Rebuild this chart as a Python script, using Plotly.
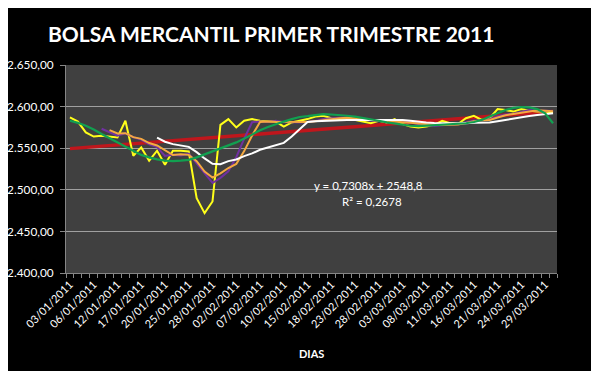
import plotly.graph_objects as go

dates = (["%02d/01/2011" % d for d in [3, 4, 5, 6, 7, 11, 12, 13, 14, 17, 18, 19, 20, 21, 24, 25, 26, 27, 28, 31]]
         + ["%02d/02/2011" % d for d in [1, 2, 3, 4, 7, 8, 9, 10, 11, 14, 15, 16, 17, 18, 21, 22, 23, 24, 25, 28]]
         + ["%02d/03/2011" % d for d in [1, 2, 3, 4, 7, 8, 9, 10, 11, 14, 15, 16, 17, 18, 21, 22, 23, 24, 25, 28, 29, 30]])

precio = [2587, 2582, 2569, 2564, 2565, 2564, 2563, 2583, 2541, 2551,
          2535, 2547, 2530, 2547, 2547, 2546, 2490, 2472, 2486, 2578,
          2585, 2575, 2583, 2585, 2583, 2582, 2582, 2576, 2581, 2583,
          2585, 2588, 2589, 2586, 2585, 2586, 2584, 2582, 2580, 2583,
          2581, 2585, 2579, 2576, 2575, 2576, 2578, 2583, 2580, 2579,
          2586, 2589, 2584, 2586, 2597, 2596, 2594, 2597, 2595, 2594,
          2594, 2593]

media5 = [None, None, None, None, 2573.4, 2568.8, 2565.0, 2567.8, 2563.2, 2560.4,
          2554.6, 2551.4, 2540.8, 2542.0, 2541.2, 2543.4, 2532.0, 2520.4, 2508.2, 2514.4,
          2522.2, 2539.2, 2561.4, 2581.2, 2582.2, 2581.6, 2583.0, 2581.6, 2580.8, 2580.8,
          2581.4, 2582.6, 2585.2, 2586.2, 2586.6, 2586.8, 2586.0, 2584.6, 2583.4, 2583.0,
          2582.0, 2582.2, 2581.6, 2580.8, 2579.2, 2578.2, 2576.8, 2577.6, 2578.4, 2579.2,
          2581.2, 2583.4, 2583.6, 2584.8, 2588.4, 2590.4, 2591.4, 2594.0, 2595.8, 2595.2,
          2594.8, 2594.6]

media6 = [None, None, None, None, None, 2571.8, 2567.8, 2568.0, 2563.3, 2561.2,
          2556.2, 2553.3, 2547.8, 2541.8, 2542.8, 2542.0, 2534.5, 2522.0, 2514.7, 2519.8,
          2526.2, 2531.0, 2546.5, 2565.3, 2581.5, 2582.2, 2581.7, 2581.8, 2581.5, 2581.2,
          2581.5, 2582.5, 2583.7, 2585.3, 2586.0, 2586.5, 2586.3, 2585.3, 2583.8, 2583.3,
          2582.7, 2582.5, 2581.7, 2580.7, 2579.8, 2578.7, 2578.2, 2577.8, 2578.0, 2578.5,
          2580.3, 2582.5, 2583.5, 2584.0, 2586.8, 2589.7, 2591.0, 2592.3, 2594.2, 2595.5,
          2595.0, 2594.5]

media12 = [None] * 11 + [
          2562.6, 2557.8, 2554.9, 2553.1, 2551.6, 2545.3, 2537.7, 2531.3, 2530.8,
          2534.5, 2536.5, 2540.5, 2543.7, 2548.1, 2551.0, 2553.9, 2556.4, 2564.0, 2573.3,
          2581.5, 2582.3, 2582.7, 2583.6, 2583.8, 2583.8, 2583.9, 2583.9, 2583.8, 2584.3,
          2584.3, 2584.5, 2584.0, 2583.0, 2581.8, 2581.0, 2580.4, 2580.2, 2579.8, 2579.6,
          2580.1, 2580.6, 2580.8, 2580.9, 2582.4, 2584.1, 2585.7, 2587.4, 2588.8, 2589.8,
          2590.9, 2592.1]

suavizada = [2583, 2580.5, 2577, 2572.5, 2567, 2562, 2556, 2551.5, 2546.5, 2542,
             2539, 2536.5, 2535, 2534.5, 2535, 2536, 2539, 2542.5, 2546, 2549.5,
             2553, 2557, 2561.5, 2567, 2571.5, 2575.5, 2579, 2582, 2585, 2587.5,
             2588.5, 2590, 2591, 2590.5, 2590, 2589, 2588, 2586.5, 2585, 2583,
             2581, 2579.5, 2578, 2577, 2576.5, 2577, 2577.5, 2578, 2578.5, 2579,
             2580, 2581.5, 2584, 2588, 2592, 2596, 2598.5, 2599.5, 2599, 2597,
             2592, 2580]

tendencia_y = [2549.5, 2594.1]
tendencia_x = [dates[0], dates[-1]]

y_ticks = [2400, 2450, 2500, 2550, 2600, 2650]
y_labels = ["2.400,00", "2.450,00", "2.500,00", "2.550,00", "2.600,00", "2.650,00"]
x_labels = [d if i % 3 == 0 else "" for i, d in enumerate(dates)]

FONT = "Lato"

fig = go.Figure()
fig.add_trace(go.Scatter(x=tendencia_x, y=tendencia_y, mode="lines",
                         line=dict(color="#C0161C", width=3.5), showlegend=False))
fig.add_trace(go.Scatter(x=dates, y=precio, mode="lines",
                         line=dict(color="#FFFF1A", width=2), showlegend=False))
fig.add_trace(go.Scatter(x=dates, y=media5, mode="lines",
                         line=dict(color="#7030A0", width=2), showlegend=False))
fig.add_trace(go.Scatter(x=dates, y=media6, mode="lines",
                         line=dict(color="#F5A940", width=2), showlegend=False))
fig.add_trace(go.Scatter(x=dates, y=media12, mode="lines",
                         line=dict(color="#FFFFFF", width=2), showlegend=False))
fig.add_trace(go.Scatter(x=dates, y=suavizada, mode="lines",
                         line=dict(color="#11A050", width=2.2), showlegend=False))

fig.update_layout(
    width=599, height=371,
    margin=dict(l=58, r=50, t=57, b=106),
    paper_bgcolor="#000000",
    plot_bgcolor="#404040",
    font=dict(family=FONT, color="#FFFFFF", size=12),
    title=dict(text="<b>BOLSA MERCANTIL PRIMER TRIMESTRE 2011</b>",
               font=dict(family=FONT, size=21, color="#FFFFFF"),
               xref="container", x=40 / 599, xanchor="left",
               yref="container", y=1 - 27 / 371, yanchor="middle"),
    xaxis=dict(type="category", categoryorder="array", categoryarray=dates,
               range=[-0.5, len(dates) - 0.5], automargin=False,
               tickmode="array", tickvals=dates, ticktext=x_labels,
               tickangle=-45, tickfont=dict(size=11, color="#FFFFFF"),
               tickson="boundaries", ticks="outside", ticklen=4, tickcolor="#868686",
               showline=True, linecolor="#868686", linewidth=1,
               showgrid=False, zeroline=False),
    yaxis=dict(range=[2400, 2650], tickmode="array", tickvals=y_ticks, ticktext=y_labels,
               automargin=False,
               tickfont=dict(size=11.8, color="#FFFFFF"),
               ticks="outside", ticklen=5, tickcolor="#868686", ticklabelstandoff=4,
               showline=True, linecolor="#868686", linewidth=1,
               showgrid=True, gridcolor="#A0A0A0", gridwidth=1, zeroline=False),
    annotations=[
        dict(text="<b>DIAS</b>", xref="paper", yref="paper", x=0.5, y=-(353 - 273) / 208,
             xanchor="center", yanchor="middle", showarrow=False,
             font=dict(family=FONT, size=11, color="#FFFFFF")),
        dict(text="y = 0,7308x + 2548,8", xref="paper", yref="paper",
             x=(368 - 66) / 491, y=(273 - 185.7) / 208,
             xanchor="center", yanchor="middle", showarrow=False,
             font=dict(family=FONT, size=11.5, color="#FFFFFF")),
        dict(text="R² = 0,2678", xref="paper", yref="paper",
             x=(371.7 - 66) / 491, y=(273 - 201.7) / 208,
             xanchor="center", yanchor="middle", showarrow=False,
             font=dict(family=FONT, size=11.5, color="#FFFFFF")),
    ],
)

fig.write_html("out.html")
